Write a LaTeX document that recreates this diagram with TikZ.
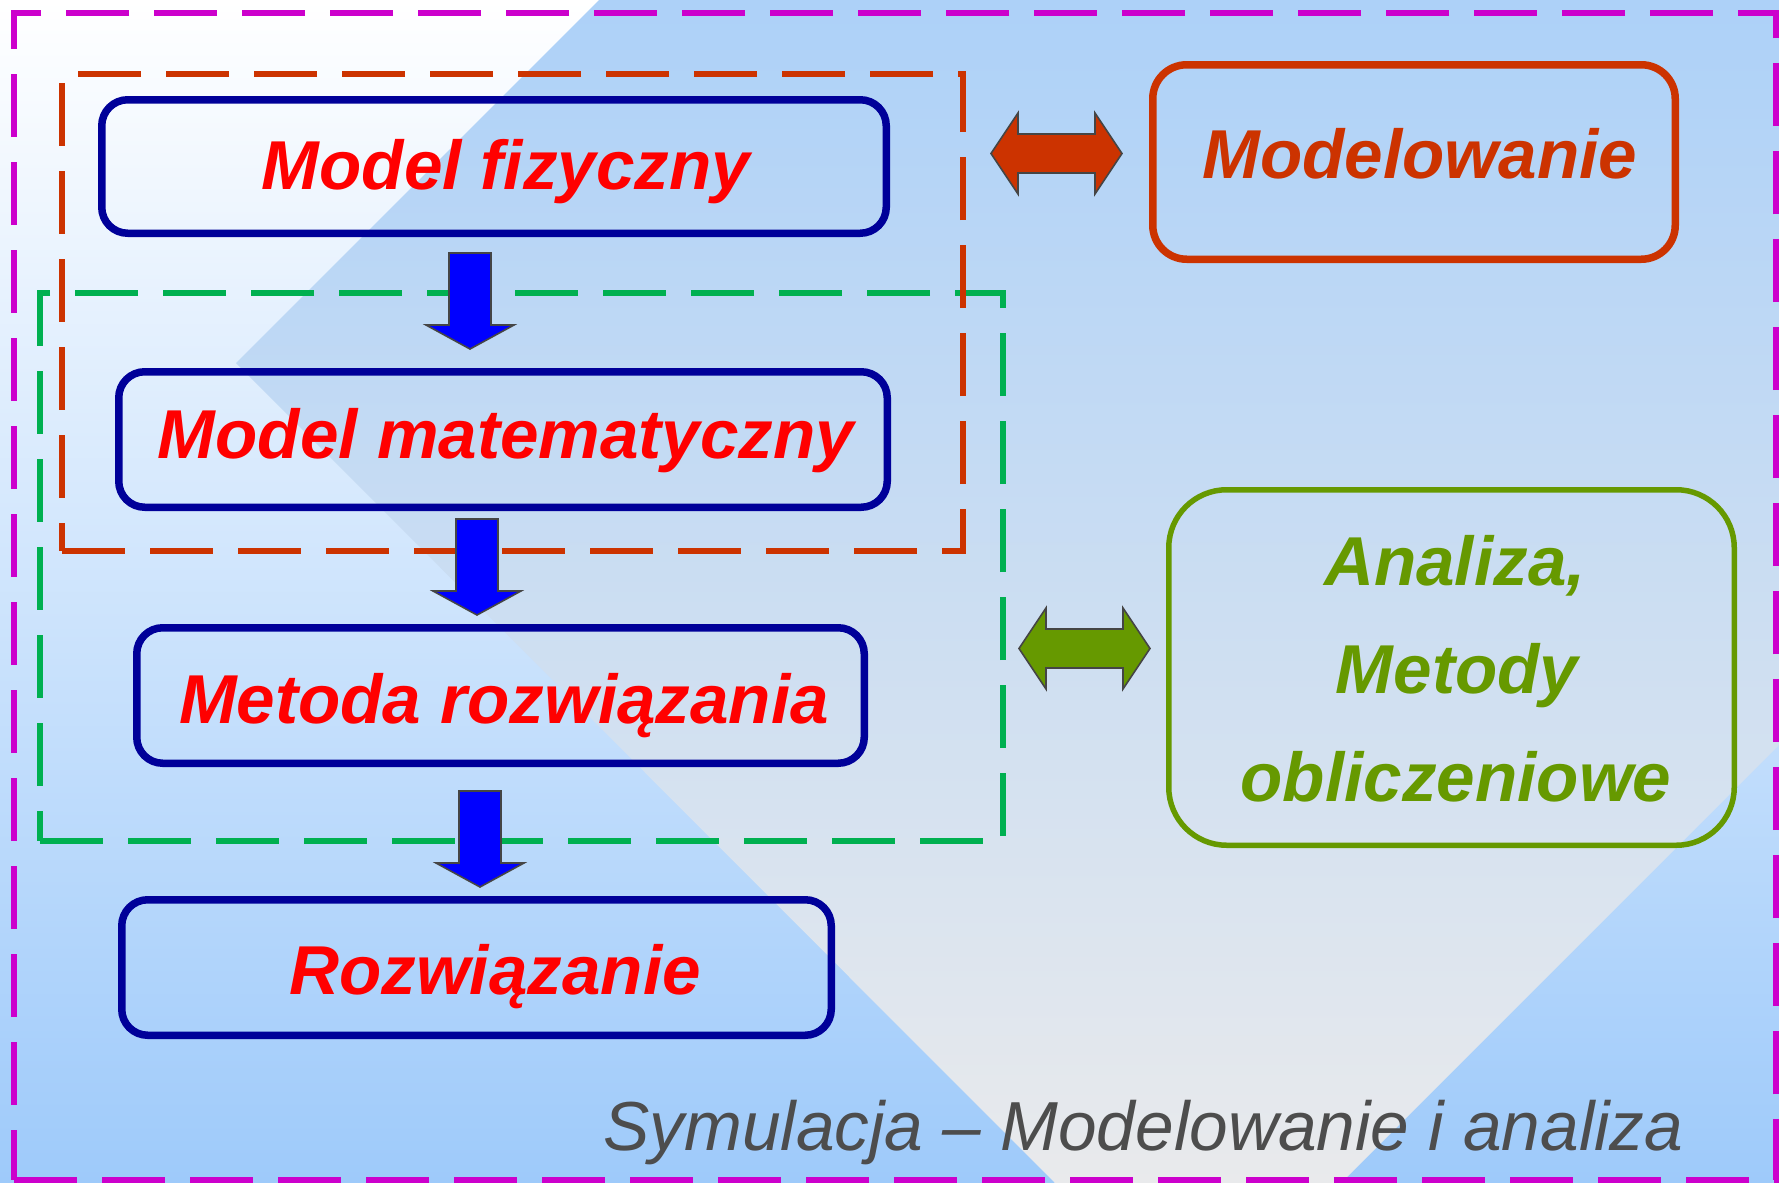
\documentclass[tikz,border=0pt]{standalone}
\usepackage{fontspec}
\setmainfont{Liberation Sans}
\usetikzlibrary{calc}
\definecolor{boxblue}{HTML}{000099}
\definecolor{txtred}{HTML}{FF0000}
\definecolor{modorange}{HTML}{CC3300}
\definecolor{angreen}{HTML}{669900}
\definecolor{dashgreen}{HTML}{00B050}
\definecolor{dashmag}{HTML}{CC00CC}
\definecolor{arrowblue}{HTML}{0000FF}
\definecolor{edgegrey}{HTML}{454545}
\definecolor{captiongrey}{HTML}{4D4D4D}
\definecolor{bgwhite}{HTML}{FFFFFF}
\definecolor{bgblue}{HTML}{9ECAFA}
\definecolor{dmtop}{HTML}{ADD1F8}
\definecolor{dmbottom}{HTML}{E9EAEC}
\tikzset{
  blockdown/.pic={\path[pic actions] (-21,0) -- (21,0) -- (21,72) -- (44,72) -- (0,96) -- (-44,72) -- (-21,72) -- cycle;},
  blockboth/.pic={\path[pic actions] (-65.5,0) -- (-38.5,-40.5) -- (-38.5,-19.5) -- (38.5,-19.5) -- (38.5,-40.5) -- (65.5,0) -- (38.5,40.5) -- (38.5,19.5) -- (-38.5,19.5) -- (-38.5,40.5) -- cycle;}
}
\begin{document}
\begin{tikzpicture}[x=0.5pt,y=-0.5pt,
  flowbox/.style={draw=boxblue, line width=3.75pt, rounded corners=13pt, inner sep=0pt},
  bigtext/.style={font=\fontsize{34.6}{42}\selectfont\bfseries\itshape, inner sep=0pt, anchor=base},
  dashframe/.style={line width=3.4pt, dash pattern=on 31.5pt off 12.5pt},
  bluearrow/.style={fill=arrowblue, draw=edgegrey, line width=0.8pt, line join=miter},
  bootharrow/.style={draw=edgegrey, line width=0.8pt, line join=miter}
]
\useasboundingbox (0,0) rectangle (1779,1183);
% background
\shade[top color=bgwhite, bottom color=bgblue] (0,0) rectangle (1779,1183);
\shade[top color=dmtop, bottom color=dmbottom] (599,0) -- (1779,0) -- (1779,745) -- (1341,1183) -- (1055,1183) -- (236,363) -- cycle;
% dashed frames
\draw[dashframe, draw=dashmag] (14,1180) -- (1776,1180) -- (1776,13) -- (14,13) -- cycle;
\draw[dashframe, draw=dashgreen] (40,841) -- (1003,841) -- (1003,293) -- (40,293) -- cycle;
\draw[dashframe, draw=modorange] (62,551) -- (963,551) -- (963,74) -- (62,74) -- cycle;
% flow boxes
\node[flowbox, minimum width=392.25pt, minimum height=66.75pt] (b1) at (494,166.5) {};
\node[flowbox, minimum width=384.25pt, minimum height=67.75pt] (b2) at (503,439.5) {};
\node[flowbox, minimum width=363.75pt, minimum height=67.75pt] (b3) at (500.5,695.5) {};
\node[flowbox, minimum width=354.75pt, minimum height=67.75pt] (b4) at (476.5,967.5) {};
\node[draw=modorange, line width=3.75pt, rounded corners=17pt, inner sep=0pt, minimum width=261.25pt, minimum height=97.25pt] (mod) at (1414,162) {};
\node[draw=angreen, line width=2.75pt, rounded corners=29pt, inner sep=0pt, minimum width=282.75pt, minimum height=177.75pt] (ana) at (1451.5,667.5) {};
% texts
\node[bigtext, text=txtred] (t1) at (506,189) {Model fizyczny};
\node[bigtext, text=txtred] (t2) at (506,458) {Model matematyczny};
\node[bigtext, text=txtred] (t3) at (504,723) {Metoda rozwiązania};
\node[bigtext, text=txtred] (t4) at (495,994) {Rozwiązanie};
\node[bigtext, text=modorange] (t5) at (1420,178) {Modelowanie};
\node[bigtext, text=angreen] (t6a) at (1455,585) {Analiza,};
\node[bigtext, text=angreen] (t6b) at (1457,693) {Metody};
\node[bigtext, text=angreen] (t6c) at (1456,801) {obliczeniowe};
\node[font=\fontsize{34.7}{40}\selectfont\itshape, text=captiongrey, inner sep=0pt, anchor=base west] (cap) at (603,1150) {Symulacja – Modelowanie i analiza};
% arrows
\pic[bluearrow] at (470,253) {blockdown};
\pic[bluearrow] at (477,519) {blockdown};
\pic[bluearrow] at (480,791) {blockdown};
\pic[bootharrow, fill=modorange] at (1056.5,153.5) {blockboth};
\pic[bootharrow, fill=angreen] at (1084.5,648.5) {blockboth};
\end{tikzpicture}
\end{document}
